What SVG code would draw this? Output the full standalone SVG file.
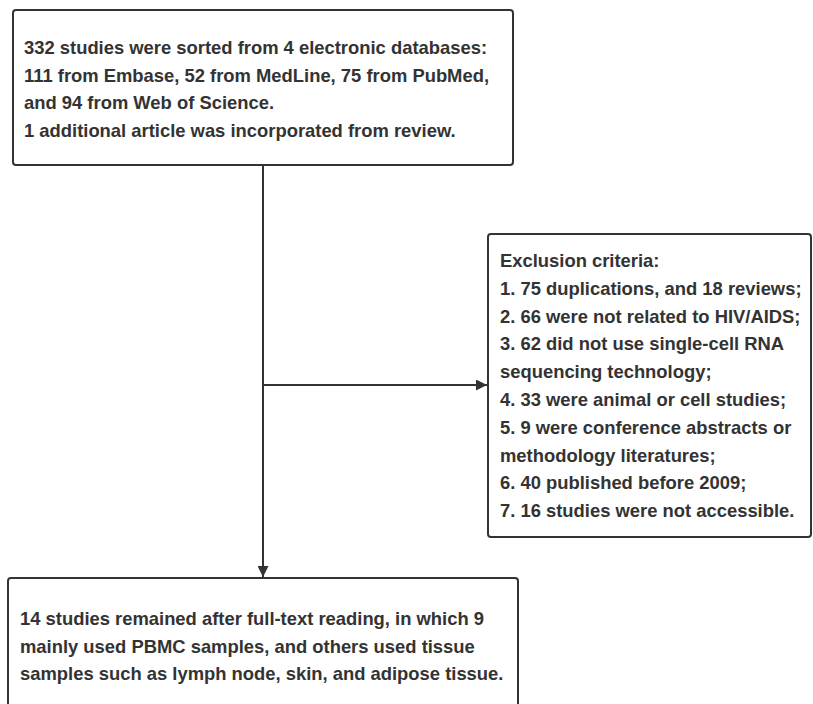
<svg xmlns="http://www.w3.org/2000/svg" width="813" height="704" viewBox="0 0 813 704">
<style>
.box{fill:#fff;stroke:#333;stroke-width:2}
.t{font-family:"Liberation Sans",Arial,sans-serif;font-size:18.4px;font-weight:bold;fill:#333}
.c{stroke:#333;stroke-width:2;fill:none}
</style>
<defs>
<marker id="ah" viewBox="0 0 10 10" refX="10" refY="5" markerWidth="13" markerHeight="11" markerUnits="userSpaceOnUse" orient="auto">
<path d="M0,0 L10,5 L0,10 z" fill="#333"/>
</marker>
</defs>
<rect width="813" height="704" fill="#fff"/>
<g id="connectors">
<path class="c" d="M263,165 L263,577" marker-end="url(#ah)"/>
<path class="c" d="M263,385 L487,385" marker-end="url(#ah)"/>
</g>
<g id="node-sources">
<rect class="box" x="13" y="10" width="500" height="155" rx="3"/>
<text class="t" x="24" y="54">332 studies were sorted from 4 electronic databases:</text>
<text class="t" x="24" y="81.5">111 from Embase, 52 from MedLine, 75 from PubMed,</text>
<text class="t" x="24" y="109">and 94 from Web of Science.</text>
<text class="t" x="24" y="136.5">1 additional article was incorporated from review.</text>
</g>
<g id="node-exclusion">
<rect class="box" x="488" y="234" width="323" height="303" rx="3"/>
<text class="t" x="500" y="267">Exclusion criteria:</text>
<text class="t" x="500" y="294.8">1. 75 duplications, and 18 reviews;</text>
<text class="t" x="500" y="322.6">2. 66 were not related to HIV/AIDS;</text>
<text class="t" x="500" y="350.4">3. 62 did not use single-cell RNA</text>
<text class="t" x="500" y="378.2">sequencing technology;</text>
<text class="t" x="500" y="406">4. 33 were animal or cell studies;</text>
<text class="t" x="500" y="433.8">5. 9 were conference abstracts or</text>
<text class="t" x="500" y="461.6">methodology literatures;</text>
<text class="t" x="500" y="489.4">6. 40 published before 2009;</text>
<text class="t" x="500" y="517.2">7. 16 studies were not accessible.</text>
</g>
<g id="node-result">
<rect class="box" x="8" y="578" width="510" height="140" rx="3"/>
<text class="t" x="20" y="625">14 studies remained after full-text reading, in which 9</text>
<text class="t" x="20" y="652.5">mainly used PBMC samples, and others used tissue</text>
<text class="t" x="20" y="680">samples such as lymph node, skin, and adipose tissue.</text>
</g>
</svg>
